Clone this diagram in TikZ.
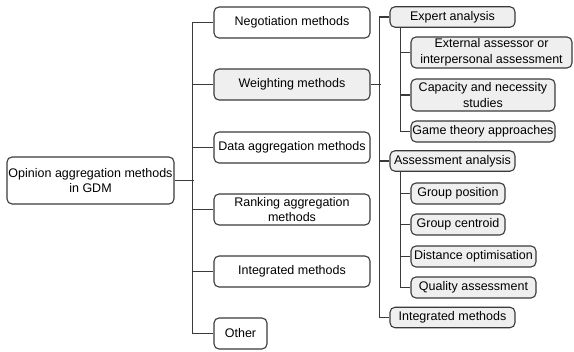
\documentclass[tikz,border=0pt]{standalone}
\usepackage{fontspec}
\setmainfont{Liberation Sans}
\definecolor{boxgray}{HTML}{EFEFEF}
\definecolor{linegray}{HTML}{3A3A3A}
\tikzset{
  base/.style={draw=linegray, line width=1.1pt, rounded corners=5pt, align=center,
    font=\fontsize{12.5}{15.5}\selectfont, inner sep=1pt},
  wbox/.style={base, fill=white},
  gbox/.style={base, fill=boxgray},
  conn/.style={draw=linegray, line width=1.1pt},
}
\begin{document}
\begin{tikzpicture}[x=1pt,y=-1pt]
\useasboundingbox (0,0) rectangle (574,352);
% root
\node[wbox, minimum width=167pt, minimum height=47pt] (root) at (90.5,180.5) {Opinion aggregation methods\\in GDM};
% level 1
\node[wbox, minimum width=156pt, minimum height=31pt] (neg) at (292,22.5) {Negotiation methods};
\node[gbox, minimum width=156pt, minimum height=31pt] (weight) at (292,84.5) {Weighting methods};
\node[wbox, minimum width=156pt, minimum height=31pt] (data) at (292,147.5) {Data aggregation methods};
\node[wbox, minimum width=156pt, minimum height=31pt] (rank) at (292,209.5) {Ranking aggregation\\methods};
\node[wbox, minimum width=156pt, minimum height=31pt] (integ) at (292,271.5) {Integrated methods};
\node[wbox, minimum width=53pt, minimum height=31pt] (other) at (240.5,333.5) {Other};
% level 2
\node[gbox, minimum width=125pt, minimum height=20.5pt] (expert) at (452.5,17) {Expert analysis};
\node[gbox, minimum width=125pt, minimum height=20.5pt] (assess) at (452.5,161) {Assessment analysis};
\node[gbox, minimum width=125pt, minimum height=20.5pt] (integtwo) at (452.5,317.5) {Integrated methods};
% level 3 (expert)
\node[gbox, minimum width=161pt, minimum height=31pt] (ext) at (491.5,52.5) {External assessor or\\interpersonal assessment};
\node[gbox, minimum width=144pt, minimum height=32pt] (cap) at (483,95) {Capacity and necessity\\studies};
\node[gbox, minimum width=144pt, minimum height=21pt] (game) at (483,131.5) {Game theory approaches};
% level 3 (assessment)
\node[gbox, minimum width=94pt, minimum height=21pt] (gpos) at (458,193.5) {Group position};
\node[gbox, minimum width=94pt, minimum height=21pt] (gcen) at (458,224.5) {Group centroid};
\node[gbox, minimum width=125pt, minimum height=21pt] (dist) at (473.5,256.5) {Distance optimisation};
\node[gbox, minimum width=125pt, minimum height=21pt] (qual) at (473.5,287.5) {Quality assessment};
% connectors level 1
\draw[conn] (root.east) -- ++(19,0);
\draw[conn] (neg.west) -- ++(-21,0) |- (other.west);
\foreach \n in {weight,data,rank,integ} \draw[conn] (\n.west) -- ++(-21,0);
% connectors level 2
\draw[conn] (weight.east) -- ++(10,0);
\draw[conn] (expert.west) -- ++(-10,0) |- (integtwo.west);
\draw[conn] (assess.west) -- ++(-10,0);
% connectors level 3
\draw[conn] (expert.south west) ++(11,0) |- (game.west);
\foreach \n in {ext,cap} \draw[conn] (\n.west) -- ++(-10,0);
\draw[conn] (assess.south west) ++(11,0) |- (qual.west);
\foreach \n in {gpos,gcen,dist} \draw[conn] (\n.west) -- ++(-10,0);
\end{tikzpicture}
\end{document}
